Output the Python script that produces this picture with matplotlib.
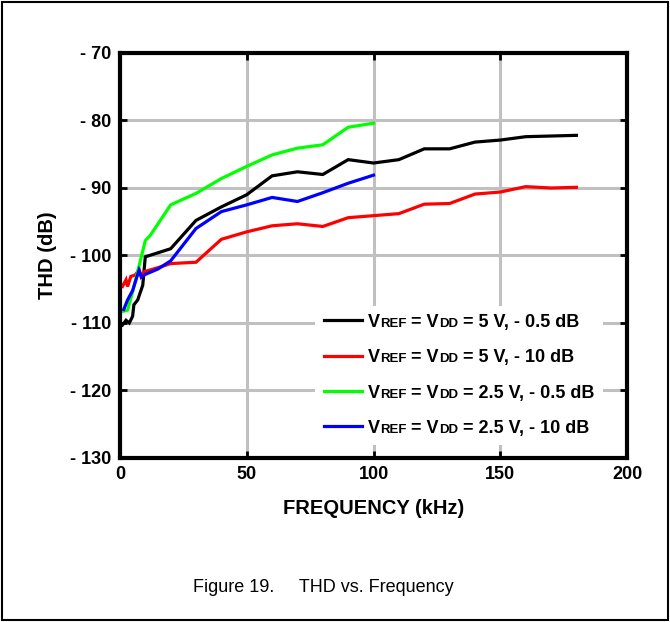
import matplotlib.pyplot as plt
from matplotlib.lines import Line2D
from matplotlib.patches import Rectangle
from matplotlib.offsetbox import (AnchoredOffsetbox, DrawingArea, HPacker,
                                  TextArea, VPacker)

plt.rcParams['font.family'] = ['Liberation Sans', 'DejaVu Sans']

# THD vs frequency
f_black = [1, 2.4, 3.7, 5, 5.5, 7, 9, 10, 20, 30, 40, 50, 60, 70, 80, 90,
           100, 110, 120, 130, 140, 150, 160, 170, 180]
thd_black = [-110.3, -109.6, -110.0, -109.0, -107.3, -106.6, -104.4, -100.2,
             -99.0, -94.8, -92.8, -91.0, -88.2, -87.6, -88.0, -85.8,
             -86.3, -85.8, -84.2, -84.2, -83.2, -82.9, -82.4, -82.3, -82.2]

f_red = [1, 2.4, 3, 4.3, 6, 7.6, 8.3, 9.6, 15, 20, 30, 40, 50, 60, 70, 80,
         90, 100, 110, 120, 130, 140, 150, 160, 170, 180]
thd_red = [-104.6, -103.6, -104.6, -103.1, -102.9, -102.1, -103.1, -102.4,
           -101.8, -101.2, -101.0, -97.6, -96.5, -95.6, -95.3, -95.7,
           -94.4, -94.1, -93.8, -92.4, -92.3, -90.9, -90.6, -89.8, -90.0, -89.9]

f_green = [1, 3, 5, 6.3, 8.3, 10, 12, 20, 30, 40, 50, 60, 70, 80, 90, 100]
thd_green = [-108.3, -108.1, -105.4, -103.4, -100.4, -97.8, -97.0, -92.5,
             -90.8, -88.6, -86.8, -85.1, -84.1, -83.6, -81.0, -80.4]

f_blue = [1.5, 3, 5, 6.5, 7.5, 8.5, 10, 15, 20, 30, 40, 50, 60, 70, 80, 90, 100]
thd_blue = [-108.0, -106.6, -105.2, -103.4, -102.2, -103.2, -102.8, -102.0,
            -100.8, -96.0, -93.5, -92.5, -91.4, -92.0, -90.7, -89.3, -88.1]

series = [
    (f_black, thd_black, 'black', '5 V, - 0.5 dB'),
    (f_red, thd_red, '#ff0000', '5 V, - 10 dB'),
    (f_green, thd_green, '#00ff00', '2.5 V, - 0.5 dB'),
    (f_blue, thd_blue, '#0000ff', '2.5 V, - 10 dB'),
]

x_ticks = [0, 50, 100, 150, 200]
y_ticks = [-70, -80, -90, -100, -110, -120, -130]

fig = plt.figure(figsize=(6.7, 6.22), dpi=100)
ax = fig.add_axes([0.179, 0.2637, 0.757, 0.6511])

for fx, fy, col, lab in series:
    ax.plot(fx, fy, color=col, lw=2.3, solid_joinstyle='miter')

ax.set_xlim(0, 200)
ax.set_ylim(-130, -70)
ax.set_xticks(x_ticks)
ax.set_yticks(y_ticks)
ax.set_xticklabels([str(v) for v in x_ticks])
ax.set_yticklabels(['- %d' % abs(v) for v in y_ticks])
ax.grid(True, color='#c0c0c0', lw=2.2)
ax.set_axisbelow(True)
for s in ax.spines.values():
    s.set_linewidth(3)
ax.tick_params(direction='in', length=5, width=2, top=True, right=True,
               labelsize=13, pad=6)
for t in ax.get_xticklabels() + ax.get_yticklabels():
    t.set_fontweight('bold')

ax.set_xlabel('FREQUENCY (kHz)', fontsize=14.5, fontweight='bold', va='center')
ax.xaxis.set_label_coords(0.5, -0.124)
ax.set_ylabel('THD (dB)', fontsize=14.5, fontweight='bold', va='center')
ax.yaxis.set_label_coords(-0.142, 0.5)

# legend with small-cap subscripts
big = dict(fontsize=13, fontweight='bold')
small = dict(fontsize=9.5, fontweight='bold')
rows = []
for fx, fy, col, lab in series:
    da = DrawingArea(32, 9, 0, 0)
    da.add_artist(Line2D([0, 28], [5, 5], color=col, lw=2.3))
    parts = [da,
             TextArea('V', textprops=big), TextArea('REF', textprops=small),
             TextArea(' = V', textprops=big), TextArea('DD', textprops=small),
             TextArea(' = ' + lab, textprops=big)]
    rows.append(HPacker(children=parts, align='baseline', pad=0, sep=0))
box = VPacker(children=rows, align='left', pad=0, sep=13)
anch = AnchoredOffsetbox(loc='upper left', child=box, pad=0.6, borderpad=0,
                         frameon=True, bbox_to_anchor=(0.385, 0.375),
                         bbox_transform=ax.transAxes)
anch.patch.set_facecolor('white')
anch.patch.set_edgecolor('none')
ax.add_artist(anch)

fig.text(0.482, 0.056, 'Figure 19.     THD vs. Frequency', ha='center',
         va='center', fontsize=13)

fig.patches.append(Rectangle((0.003, 0.003), 0.994, 0.993, transform=fig.transFigure,
                             fill=False, edgecolor='black', lw=1.5))

fig.savefig('out.png', dpi=100)
